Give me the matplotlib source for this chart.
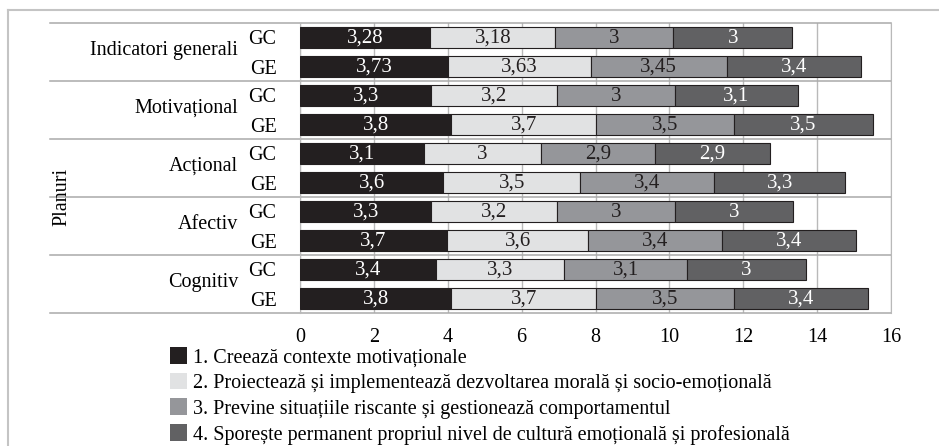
import numpy as np
import matplotlib.pyplot as plt
from matplotlib.patches import Patch
from matplotlib.lines import Line2D

plt.rcParams['font.family'] = ['Liberation Serif', 'DejaVu Serif']

planuri = ['Indicatori generali', 'Motivațional', 'Acțional', 'Afectiv', 'Cognitiv']
grupuri = ['GC', 'GE']

series_names = [
    '1. Creează contexte motivaționale',
    '2. Proiectează și implementează dezvoltarea morală și socio-emoțională',
    '3. Previne situațiile riscante și gestionează comportamentul',
    '4. Sporește permanent propriul nivel de cultură emoțională și profesională',
]

# values printed on the bars (GC, GE for each plan, top to bottom)
s1_values = [3.28, 3.73, 3.3, 3.8, 3.1, 3.6, 3.3, 3.7, 3.4, 3.8]
s2_values = [3.18, 3.63, 3.2, 3.7, 3, 3.5, 3.2, 3.6, 3.3, 3.7]
s3_values = [3, 3.45, 3, 3.5, 2.9, 3.4, 3, 3.4, 3.1, 3.5]
s4_values = [3, 3.4, 3.1, 3.5, 2.9, 3.3, 3, 3.4, 3, 3.4]

# segment lengths as drawn against the axis in the picture
s1_len = [3.53, 4.01, 3.56, 4.10, 3.35, 3.88, 3.56, 3.98, 3.67, 4.10]
s2_len = [3.38, 3.87, 3.40, 3.92, 3.18, 3.71, 3.40, 3.83, 3.49, 3.92]
s3_len = [3.20, 3.67, 3.20, 3.74, 3.09, 3.63, 3.20, 3.62, 3.32, 3.74]
s4_len = [3.21, 3.65, 3.31, 3.74, 3.10, 3.53, 3.19, 3.63, 3.21, 3.63]

colors = ['#231f20', '#e1e2e3', '#95969a', '#616163']
text_colors = ['white', '#231f20', '#231f20', 'white']

values = [s1_values, s2_values, s3_values, s4_values]
lengths = [s1_len, s2_len, s3_len, s4_len]

fig = plt.figure(figsize=(9.39, 4.46), dpi=100)
W, H = 939, 446
ax = fig.add_axes([300 / W, 1 - 313 / H, 591 / W, 290 / H])

n = len(planuri) * len(grupuri)
y = np.arange(n) + 0.5
left = np.zeros(n)
for k in range(4):
    ln = np.array(lengths[k])
    ax.barh(y, ln, left=left, height=0.72, color=colors[k],
            edgecolor='#231f20', linewidth=0.8, zorder=3)
    for i in range(n):
        ax.text(left[i] + ln[i] / 2, y[i] + 0.03, f'{values[k][i]:g}'.replace('.', ','),
                ha='center', va='center', fontsize=15, color=text_colors[k], zorder=4)
    left += ln

ax.set_xlim(0, 16)
ax.set_ylim(n, 0)
ax.set_xticks(np.arange(0, 17, 2))
ax.set_yticks(y)
ax.set_yticklabels(grupuri * len(planuri))
ax.tick_params(axis='both', length=0, labelsize=14.5)
ax.tick_params(axis='y', pad=17)
ax.tick_params(axis='x', pad=11)
ax.grid(axis='x', color='#b9b9b9', linewidth=1, zorder=0)
for s in ['top', 'bottom']:
    ax.spines[s].set_visible(False)
for s in ['left', 'right']:
    ax.spines[s].set_color('#b9b9b9')

# group separators reaching into the label area
for g in range(len(planuri) + 1):
    ax.axhline(2 * g, xmin=-0.423, xmax=1, color='#aaaaaa', linewidth=1.1, clip_on=False, zorder=2)

for g, name in enumerate(planuri):
    ax.annotate(name, xy=(0, 2 * g + 1), xycoords=('axes fraction', 'data'),
                xytext=(-44.6, 1), textcoords='offset points',
                ha='right', va='center', fontsize=14.5)

fig.text(62 / W, 1 - 197 / H, 'Planuri', rotation=90, ha='center', va='center', fontsize=14.5)

handles = [Patch(facecolor=c, edgecolor='none') for c in colors]
fig.legend(handles, series_names, loc='upper left', bbox_to_anchor=(170 / W, 1 - 347 / H),
           frameon=False, fontsize=14.5, borderpad=0, borderaxespad=0,
           handlelength=0.85, handleheight=0.9, handletextpad=0.3, labelspacing=0.27)

# outer frame
fig.add_artist(Line2D([8 / W, 1], [1 - 10 / H, 1 - 10 / H], color='#c4c4c4', linewidth=1.5))
fig.add_artist(Line2D([8 / W, 8 / W], [0, 1 - 10 / H], color='#c4c4c4', linewidth=1.5))

fig.savefig('out.png', dpi=100)
